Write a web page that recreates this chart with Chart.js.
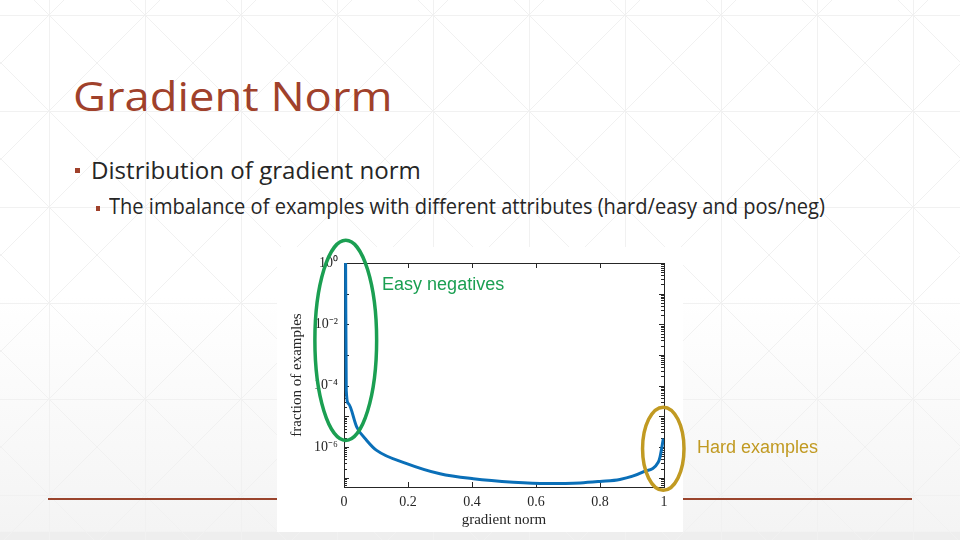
<!DOCTYPE html>
<html>
<head>
<meta charset="utf-8">
<script src="https://cdn.jsdelivr.net/npm/chart.js@4.4.1/dist/chart.umd.min.js"></script>
<style>
    html, body { margin: 0; padding: 0; }
    body {
        width: 960px; height: 540px; overflow: hidden; position: relative;
        font-family: "Open Sans", "Noto Sans", sans-serif;
        background:
            url("data:image/svg+xml,%3Csvg xmlns='http://www.w3.org/2000/svg' width='96' height='96'%3E%3Cpath d='M0.5 0V96M0 0.5H96M0 0L96 96M96 0L0 96' stroke='%23f1f1f1' stroke-width='1' fill='none'/%3E%3C/svg%3E") 49px 15px,
            linear-gradient(to bottom, #ffffff 0%, #ffffff 55%, #f4f4f4 98.4%, #eeeeee 98.5%, #eeeeee 100%);
    }
    .txt { position: absolute; white-space: nowrap; line-height: 1; transform-origin: 0 0; }
    .title { left: 73px; top: 76px; font-size: 40px; font-weight: 500; color: #a0412b; }
    .b1 { left: 91px; top: 159px; font-size: 23px; color: #262626; }
    .b2 { left: 109px; top: 196px; font-size: 21px; color: #262626; }
    .sq { position: absolute; background: #a0412b; }
    .rule { position: absolute; left: 48px; top: 498px; width: 864px; height: 2px; background: #9a442d; }
    .figure { position: absolute; left: 277px; top: 247px; width: 406px; height: 285px; background: #ffffff; }
    #chart { position: absolute; left: 0; top: 0; }
</style>
</head>
<body>
<div class="txt title" data-w="319">Gradient Norm</div>
<div class="sq" style="left:75px;top:168px;width:5px;height:5px"></div>
<div class="txt b1" data-w="330">Distribution of gradient norm</div>
<div class="sq" style="left:96px;top:206px;width:4px;height:5px"></div>
<div class="txt b2" data-w="716">The imbalance of examples with different attributes (hard/easy and pos/neg)</div>
<div class="rule"></div>
<div class="figure"></div>
<canvas id="chart" width="960" height="540"></canvas>
<script>
// curve
const gradNorm = [0.005, 0.007, 0.014, 0.04, 0.071, 0.102, 0.196, 0.30, 0.404, 0.529, 0.633, 0.738, 0.80, 0.862, 0.935, 0.982, 0.9875, 0.998];
const fraction = [1, 7.1e-5, 2.6e-5, 4.5e-6, 1.65e-6, 7.8e-7, 2.9e-7, 1.35e-7, 9.3e-8, 7.2e-8, 6.5e-8, 6.8e-8, 7.6e-8, 8.8e-8, 1.55e-7, 3.2e-7, 4.7e-7, 1.9e-6];

// axes
const xTicks = [0, 0.2, 0.4, 0.6, 0.8, 1];
const yTickValues = [1, 1e-2, 1e-4, 1e-6];
const yTickLabels = ['10⁰', '10⁻²', '10⁻⁴', '10⁻⁶'];

// annotations (data units)
const noteTexts = ['Easy negatives', 'Hard examples'];
const noteColors = ['#1b9f52', '#c19a22'];
const noteX = [0.119, 1.103];
const noteY = [0.19, 9.1e-7];
const ovalX = [[-0.091, 0.102], [0.933, 1.0625]];
const ovalY = [[5.5, 1.65e-6], [2.0e-5, 3.9e-8]];

const axisColor = '#262626';
const serif = '"Liberation Serif", "Times New Roman", serif';

// fit slide text to the widths seen in the reference
document.querySelectorAll('.txt').forEach(el => {
    const w = parseFloat(el.dataset.w);
    el.style.transform = 'scaleX(' + (w / el.offsetWidth) + ')';
});

// MATLAB style box with inward ticks (under the curve)
const axesFrame = {
    id: 'axesFrame',
    beforeDatasetsDraw(chart) {
        const { ctx, chartArea: a, scales: { x, y } } = chart;
        ctx.save();
        ctx.strokeStyle = axisColor;
        ctx.lineWidth = 1;
        ctx.strokeRect(Math.round(a.left) + 0.5, Math.round(a.top) + 0.5, Math.round(a.width), Math.round(a.height));
        ctx.beginPath();
        xTicks.forEach(v => {
            const px = Math.round(x.getPixelForValue(v)) + 0.5;
            ctx.moveTo(px, a.bottom); ctx.lineTo(px, a.bottom - 5);
            ctx.moveTo(px, a.top); ctx.lineTo(px, a.top + 5);
        });
        for (let d = -8; d <= 0; d++) {
            for (let m = 1; m <= 9; m++) {
                const v = m * Math.pow(10, d);
                if (v < y.min || v > y.max) continue;
                const py = Math.round(y.getPixelForValue(v)) + 0.5;
                const len = m === 1 ? 5 : 3;
                ctx.moveTo(a.left, py); ctx.lineTo(a.left + len, py);
                ctx.moveTo(a.right, py); ctx.lineTo(a.right - len, py);
            }
        }
        ctx.stroke();
        ctx.restore();
    }
};

// ovals and labels drawn over the figure
const callouts = {
    id: 'callouts',
    afterDraw(chart) {
        const { ctx, scales: { x, y } } = chart;
        ctx.save();
        noteTexts.forEach((t, i) => {
            const x0 = x.getPixelForValue(ovalX[i][0]), x1 = x.getPixelForValue(ovalX[i][1]);
            const y0 = y.getPixelForValue(ovalY[i][0]), y1 = y.getPixelForValue(ovalY[i][1]);
            ctx.strokeStyle = noteColors[i];
            ctx.lineWidth = 3.5;
            ctx.beginPath();
            ctx.ellipse((x0 + x1) / 2, (y0 + y1) / 2, Math.abs(x1 - x0) / 2, Math.abs(y1 - y0) / 2, 0, 0, Math.PI * 2);
            ctx.stroke();
            ctx.fillStyle = noteColors[i];
            ctx.font = '18px "Liberation Sans", Arial, sans-serif';
            ctx.textAlign = 'left';
            ctx.textBaseline = 'middle';
            ctx.fillText(t, x.getPixelForValue(noteX[i]), y.getPixelForValue(noteY[i]));
        });
        ctx.restore();
    }
};

new Chart(document.getElementById('chart'), {
    type: 'line',
    data: {
        datasets: [{
            data: gradNorm.map((g, i) => ({ x: g, y: fraction[i] })),
            borderColor: '#0a6fb8',
            borderWidth: 3,
            pointRadius: 0,
            cubicInterpolationMode: 'monotone',
            fill: false
        }]
    },
    options: {
        responsive: false,
        animation: false,
        layout: { padding: { left: 284, right: 296, top: 263, bottom: 8 } },
        plugins: { legend: { display: false }, tooltip: { enabled: false } },
        scales: {
            x: {
                type: 'linear',
                min: 0,
                max: 1,
                afterBuildTicks: s => { s.ticks = xTicks.map(v => ({ value: v })); },
                afterFit: s => { s.height = 45; },
                grid: { display: false, drawTicks: false },
                border: { display: false },
                ticks: {
                    padding: 7,
                    color: axisColor,
                    font: { family: serif, size: 14 },
                    callback: v => String(v)
                },
                title: {
                    display: true,
                    text: 'gradient norm',
                    color: axisColor,
                    font: { family: serif, size: 15 },
                    padding: { top: 0, bottom: 3 }
                }
            },
            y: {
                type: 'logarithmic',
                min: 5e-8,
                max: 1,
                afterBuildTicks: s => { s.ticks = yTickValues.map(v => ({ value: v })); },
                afterFit: s => { s.width = 60; },
                grid: { display: false, drawTicks: false },
                border: { display: false },
                ticks: {
                    padding: 6,
                    autoSkip: false,
                    color: axisColor,
                    font: { family: serif, size: 14 },
                    callback: (v, i) => yTickLabels[i]
                },
                title: {
                    display: true,
                    text: 'fraction of examples',
                    color: axisColor,
                    font: { family: serif, size: 15 },
                    padding: { top: 4, bottom: 0 }
                }
            }
        }
    },
    plugins: [axesFrame, callouts]
});
</script>
</body>
</html>
